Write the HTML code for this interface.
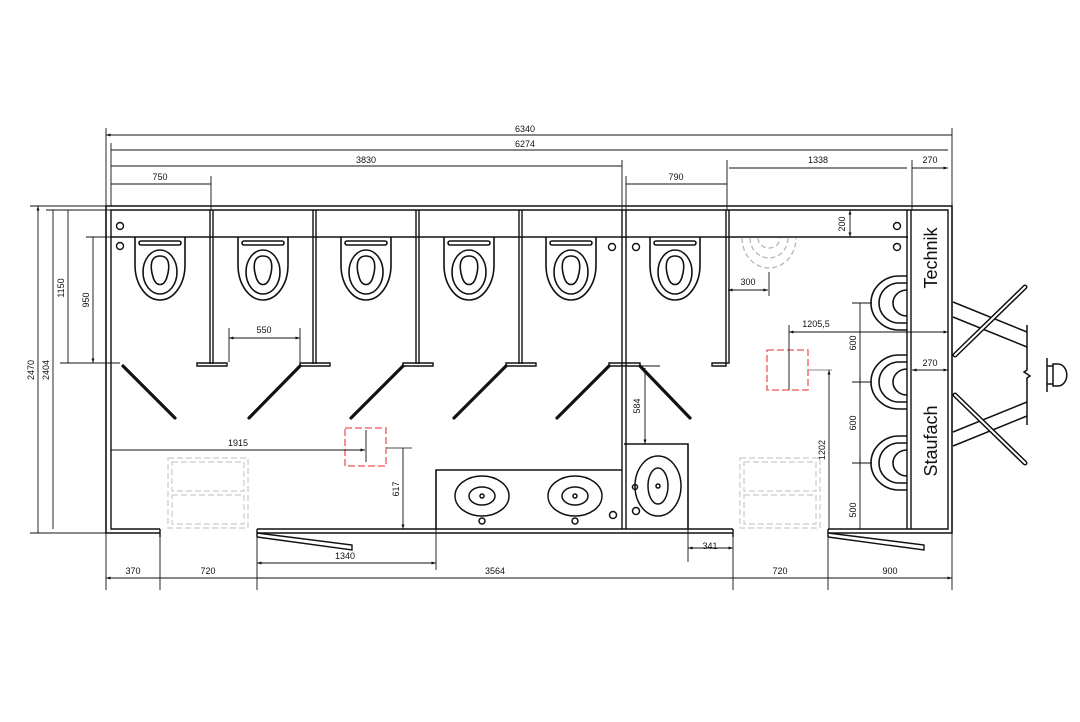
<!DOCTYPE html>
<html><head><meta charset="utf-8"><style>
html,body{margin:0;padding:0;background:#fff}
svg{display:block}
text{font-family:"Liberation Sans",sans-serif;font-size:9px;fill:#111}
</style></head><body>
<svg width="1080" height="722" viewBox="0 0 1080 722" xmlns="http://www.w3.org/2000/svg">
<defs>
<marker id="a" viewBox="0 0 6 6" refX="6" refY="3" markerWidth="5" markerHeight="5" orient="auto-start-reverse"><path d="M0,1 L6,3 L0,5z" fill="#111"/></marker>
<g id="wc" fill="none" stroke="#111" stroke-width="1.6">
<path d="M-25,0 V28 A25,35 0 0 0 25,28 V0"/>
<rect x="-21" y="4" width="42" height="4" rx="2"/>
<ellipse cx="0" cy="35" rx="17" ry="22"/>
<path d="M0,19 C-10,19 -10,30 -7,40 C-4,50 4,50 7,40 C10,30 10,19 0,19z"/>
</g>
<g id="ur" fill="none" stroke="#111" stroke-width="1.6">
<path d="M0,-27 H-8 A28,27 0 0 0 -8,27 H0"/>
<path d="M0,-20 H-8 A20,20 0 0 0 -8,20 H0"/>
<path d="M0,-13 A14,13 0 0 0 0,13"/>
</g>
</defs>

<g fill="none" stroke="#111">
<!-- outer walls -->
<path d="M160,533 H106 V206 H952 V533 H828" stroke-width="1.6"/>
<path d="M160,529 H111 V210 H948 V529 H828" stroke-width="1.4"/>
<path d="M257,533 H733 M257,529 H733" stroke-width="1.6"/>
<path d="M160,529 V537 M257,529 V537 M733,529 V537 M828,529 V537" stroke-width="1.4"/>
<!-- back wall -->
<path d="M111,237 H908" stroke-width="1.4"/>
<!-- partitions -->
<g stroke-width="1.4">
<path d="M210,210 V364 M213,210 V364 M313,210 V364 M316,210 V364 M416,210 V364 M419,210 V364 M519,210 V364 M522,210 V364"/>
<path d="M197,363 H227 V366 H197Z M300,363 H330 V366 H300Z M403,363 H433 V366 H403Z M506,363 H536 V366 H506Z"/>
<path d="M622,210 V529 M626,210 V529 M609,363 H640 V366 H609Z"/>
<path d="M726,210 V366 H712 V363 H729 V210" />
<path d="M907,210 V529 M911,210 V529"/>
</g>
<!-- doors -->
<g stroke-width="3.2" stroke-linecap="round">
<path d="M123,366 L175,418 M300,366 L249,418 M403,366 L351,418 M506,366 L454,418 M609,366 L557,418 M640,366 L690,418"/>
</g>
<path d="M257,533 L352,545 L352,550 L257,537" stroke-width="1.4"/>
<path d="M828,533 L924,545 L924,550 L828,537" stroke-width="1.4"/>
<!-- sinks -->
<path d="M436,529 V470 H622 M624,444 H688 V529" stroke-width="1.6"/>
<g stroke-width="1.5">
<ellipse cx="482" cy="496" rx="27" ry="20"/><ellipse cx="482" cy="496" rx="13" ry="9"/><circle cx="482" cy="496" r="2"/><circle cx="482" cy="521" r="3"/>
<ellipse cx="575" cy="496" rx="27" ry="20"/><ellipse cx="575" cy="496" rx="13" ry="9"/><circle cx="575" cy="496" r="2"/><circle cx="575" cy="521" r="3"/>
<circle cx="613" cy="515" r="3.5"/>
<ellipse cx="658" cy="486" rx="23" ry="30"/><ellipse cx="658" cy="486" rx="10" ry="18"/><circle cx="658" cy="486" r="2"/>
<circle cx="635" cy="487" r="2.5"/><circle cx="636" cy="511" r="3.5"/>
</g>
<!-- small circles -->
<g stroke-width="1.4">
<circle cx="120" cy="226" r="3.5"/><circle cx="120" cy="246" r="3.5"/>
<circle cx="612" cy="247" r="3.5"/><circle cx="636" cy="247" r="3.5"/>
<circle cx="897" cy="226" r="3.5"/><circle cx="897" cy="247" r="3.5"/>
</g>
<!-- ghost urinal -->
<g stroke="#bbb" stroke-width="1.4" stroke-dasharray="5,3">
<path d="M742,238 A27,30 0 0 0 796,238"/><path d="M750,238 A19,20 0 0 0 788,238"/><path d="M758,238 A11,10 0 0 0 780,238"/>
</g>
<!-- dashed boxes -->
<g stroke="#ccc" stroke-width="1.2" stroke-dasharray="6,3">
<rect x="168" y="458" width="80" height="70"/><rect x="172" y="462" width="72" height="29"/><rect x="172" y="495" width="72" height="29"/>
<rect x="740" y="458" width="80" height="70"/><rect x="744" y="462" width="72" height="29"/><rect x="744" y="495" width="72" height="29"/>
</g>
<g stroke="#e55" stroke-width="1.3" stroke-dasharray="7,3">
<rect x="345" y="428" width="41" height="38"/><rect x="767" y="350" width="41" height="40"/>
</g>
<!-- hitch -->
<g stroke-width="1.5">
<path d="M953,302 L1027,332 M953,317 L1027,347 M953,432 L1027,402 M953,446 L1027,416"/>
<path d="M1027,325 V370 L1024,372 L1030,376 L1027,378 V425"/>
<path d="M1047,358 V392 M1047,366 H1053 M1047,384 H1053 M1053,364 H1058 A8,10 0 0 1 1058,386 H1053 Z"/>
</g>
<g stroke-linecap="round">
<path d="M955,355 L1025,287 M955,395 L1025,463" stroke="#111" stroke-width="5"/>
<path d="M955,355 L1025,287 M955,395 L1025,463" stroke="#fff" stroke-width="2"/>
</g>
</g>

<!-- toilets -->
<use href="#wc" x="160" y="237"/><use href="#wc" x="263" y="237"/><use href="#wc" x="366" y="237"/>
<use href="#wc" x="469" y="237"/><use href="#wc" x="571" y="237"/><use href="#wc" x="675" y="237"/>
<!-- urinals -->
<use href="#ur" x="907" y="303"/><use href="#ur" x="907" y="382"/><use href="#ur" x="907" y="463"/>

<!-- dimension lines -->
<g stroke="#111" stroke-width="0.9" fill="none">
<path d="M106,128 V206 M111,143 V206 M211,176 V210 M622,160 V210 M626,176 V210 M727,160 V210 M912,160 V210 M952,128 V206"/>
<path d="M106,135 H952 M111,150 H948 M111,166 H622 M111,184 H211 M626,184 H727 M729,168 H907 M912,168 H948" marker-start="url(#a)" marker-end="url(#a)"/>
<path d="M850,210 V237" marker-start="url(#a)" marker-end="url(#a)"/>
<path d="M728,290 H768" marker-start="url(#a)" marker-end="url(#a)"/><path d="M769,272 V296"/>
<path d="M229,328 V362 M300,328 V362"/><path d="M229,338 H300" marker-start="url(#a)" marker-end="url(#a)"/>
<path d="M645,368 V444" marker-start="url(#a)" marker-end="url(#a)"/><path d="M640,366 H660"/>
<path d="M111,450 H365" marker-end="url(#a)"/><path d="M366,430 V462"/>
<path d="M386,448 H412" stroke="#888" stroke-width="1.4"/><path d="M403,448 V529" marker-end="url(#a)"/>
<path d="M789,325 V390"/><path d="M789,332 H948" marker-start="url(#a)" marker-end="url(#a)"/>
<path d="M808,370 H832" stroke="#888"/><path d="M829,370 V529" marker-start="url(#a)"/>
<path d="M912,370 H948" marker-start="url(#a)" marker-end="url(#a)"/>
<path d="M860,303 V529"/><path d="M852,303 H872 M852,382 H872 M860,376 V388 M852,463 H872 M860,457 V469"/>
<path d="M688,529 V562 M733,537 V590"/><path d="M688,548 H733" marker-start="url(#a)" marker-end="url(#a)"/>
<path d="M436,529 V570"/><path d="M257,563 H436" marker-start="url(#a)" marker-end="url(#a)"/>
<path d="M106,533 V590 M160,537 V590 M257,537 V590 M828,537 V590 M952,533 V590"/>
<path d="M106,578 H160 M160,578 H257 M257,578 H733 M733,578 H828 M828,578 H952" marker-start="url(#a)" marker-end="url(#a)"/>
<path d="M30,206 H106 M46,210 H111 M60,363 H120 M86,237 H111"/>
<path d="M38,206 V533 M53,210 V529 M68,210 V363 M93,237 V363" marker-start="url(#a)" marker-end="url(#a)"/>
<path d="M30,533 H106"/>
</g>

<!-- labels -->
<g text-anchor="middle">
<text x="525" y="132">6340</text><text x="525" y="147">6274</text>
<text x="366" y="163">3830</text><text x="160" y="180">750</text>
<text x="676" y="180">790</text><text x="818" y="163">1338</text><text x="930" y="163">270</text>
<text x="748" y="285">300</text><text x="264" y="333">550</text>
<text x="238" y="446">1915</text><text x="816" y="327">1205,5</text>
<text x="930" y="366">270</text><text x="710" y="549">341</text>
<text x="345" y="559">1340</text>
<text x="133" y="574">370</text><text x="208" y="574">720</text><text x="495" y="574">3564</text>
<text x="780" y="574">720</text><text x="890" y="574">900</text>
<text transform="translate(845,224) rotate(-90)">200</text>
<text transform="translate(640,406) rotate(-90)">584</text>
<text transform="translate(399,489) rotate(-90)">617</text>
<text transform="translate(825,450) rotate(-90)">1202</text>
<text transform="translate(856,343) rotate(-90)">600</text>
<text transform="translate(856,423) rotate(-90)">600</text>
<text transform="translate(856,510) rotate(-90)">500</text>
<text transform="translate(34,370) rotate(-90)">2470</text>
<text transform="translate(49,370) rotate(-90)">2404</text>
<text transform="translate(64,288) rotate(-90)">1150</text>
<text transform="translate(89,300) rotate(-90)">950</text>
<text transform="translate(937,258) rotate(-90)" style="font-size:18px">Technik</text>
<text transform="translate(937,441) rotate(-90)" style="font-size:18px">Staufach</text>
</g>
</svg>
</body></html>
